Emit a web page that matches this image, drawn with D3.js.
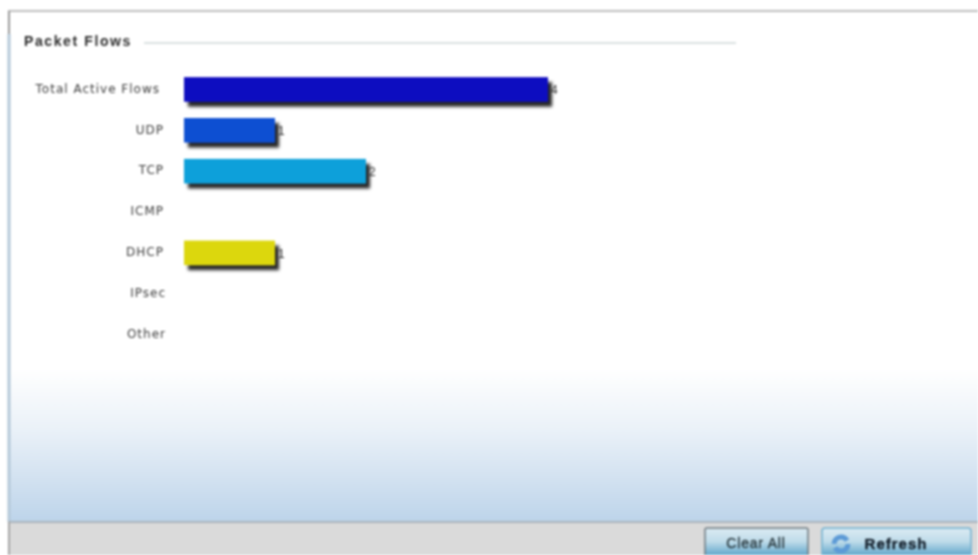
<!DOCTYPE html>
<html>
<head>
<meta charset="utf-8">
<script src="https://cdn.jsdelivr.net/npm/d3@7/dist/d3.min.js"></script>
<style>
  html, body { margin: 0; padding: 0; background: #fff; overflow: hidden; }
  svg { display: block; filter: blur(0.8px); font-family: "Liberation Sans", Arial, sans-serif; }
</style>
</head>
<body>
<svg id="main_svg" width="978" height="555"></svg>
<script>
const categories = ["Total Active Flows", "UDP", "TCP", "ICMP", "DHCP", "IPsec", "Other"];
const flowCounts = [4, 1, 2, 0, 1, 0, 0];
const barColors = ["#0a08c0", "#0d4fd2", "#0aa0da", "#000000", "#dcd70a", "#000000", "#000000"];
const xTicks = [0, 1, 2, 3, 4];

const svg = d3.select("#main_svg");

const defs = svg.append("defs");

const panelGrad = defs.append("linearGradient")
  .attr("id", "panelGrad").attr("x1", 0).attr("y1", 0).attr("x2", 0).attr("y2", 1);
panelGrad.append("stop").attr("offset", "0%").attr("stop-color", "#ffffff");
panelGrad.append("stop").attr("offset", "70%").attr("stop-color", "#ffffff");
panelGrad.append("stop").attr("offset", "82%").attr("stop-color", "#eaf1f8");
panelGrad.append("stop").attr("offset", "100%").attr("stop-color", "#bdd4ea");

const btnGrad = defs.append("linearGradient")
  .attr("id", "btnGrad").attr("x1", 0).attr("y1", 0).attr("x2", 0).attr("y2", 1);
btnGrad.append("stop").attr("offset", "0%").attr("stop-color", "#dcebf3");
btnGrad.append("stop").attr("offset", "45%").attr("stop-color", "#bfdcea");
btnGrad.append("stop").attr("offset", "100%").attr("stop-color", "#4f9cc4");

const shadow = defs.append("filter")
  .attr("id", "barShadow").attr("x", "-10%").attr("y", "-30%").attr("width", "125%").attr("height", "190%");
shadow.append("feDropShadow")
  .attr("dx", 4).attr("dy", 5).attr("stdDeviation", 1.8)
  .attr("flood-color", "#101010").attr("flood-opacity", 0.9);

// panel
svg.append("rect").attr("x", 8).attr("y", 11).attr("width", 970).attr("height", 511).attr("fill", "url(#panelGrad)");
svg.append("line").attr("x1", 8).attr("x2", 978).attr("y1", 11).attr("y2", 11).attr("stroke", "#a8a8a8").attr("stroke-width", 1.5);
svg.append("line").attr("x1", 9).attr("x2", 9).attr("y1", 11).attr("y2", 34).attr("stroke", "#999").attr("stroke-width", 2);
svg.append("line").attr("x1", 9).attr("x2", 9).attr("y1", 34).attr("y2", 522).attr("stroke", "#b4c8d8").attr("stroke-width", 3);

// footer
svg.append("rect").attr("x", 8).attr("y", 522).attr("width", 970).attr("height", 33).attr("fill", "#dadada");
svg.append("line").attr("x1", 8).attr("x2", 978).attr("y1", 522).attr("y2", 522).attr("stroke", "#aab4bc").attr("stroke-width", 2);
svg.append("line").attr("x1", 9).attr("x2", 9).attr("y1", 522).attr("y2", 555).attr("stroke", "#a5a5a5").attr("stroke-width", 2);

// title
svg.append("text").attr("x", 24).attr("y", 46)
  .attr("font-size", 14).attr("font-weight", "bold").attr("letter-spacing", 1.6).attr("fill", "#2c2c2c").text("Packet Flows");
svg.append("line").attr("x1", 144).attr("x2", 736).attr("y1", 43).attr("y2", 43).attr("stroke", "#ced6d6").attr("stroke-width", 1.5);

// chart
const x = d3.scaleLinear().domain([0, d3.max(xTicks)]).range([184, 548]);
const y = d3.scaleBand().domain(categories).range([68, 354]).paddingInner(0.4).paddingOuter(0.2);

const yAxis = svg.append("g")
  .attr("transform", `translate(${x(0) - 20},0)`)
  .call(d3.axisLeft(y).tickSize(0).tickPadding(0));
yAxis.select(".domain").remove();
yAxis.selectAll("text")
  .attr("font-family", "'DejaVu Sans', sans-serif")
  .attr("fill", "#3c3c3c")
  .attr("letter-spacing", 1)
  .style("font-size", "12px")
  .attr("dy", "0.36em")
  .attr("dx", d => d === categories[0] ? -4 : (d === "Other" || d === "IPsec") ? 2 : 0);

const rows = categories.map((name, i) => ({ name, value: flowCounts[i], color: barColors[i] }));

svg.append("g")
  .selectAll("rect")
  .data(rows.filter(d => d.value > 0))
  .join("rect")
  .attr("x", x(0))
  .attr("y", d => y(d.name) + 1)
  .attr("width", d => x(d.value) - x(0))
  .attr("height", y.bandwidth())
  .attr("fill", d => d.color)
  .attr("filter", "url(#barShadow)");

svg.append("g")
  .selectAll("text")
  .data(rows.filter(d => d.value > 0))
  .join("text")
  .attr("x", d => x(d.value) + 3)
  .attr("y", d => y(d.name) + y.bandwidth() / 2 + 6)
  .attr("font-size", 12)
  .attr("fill", "#333")
  .text(d => d.value);

// buttons
svg.append("rect").attr("x", 705).attr("y", 528).attr("width", 103).attr("height", 30).attr("rx", 2)
  .attr("fill", "url(#btnGrad)").attr("stroke", "#6e7a80").attr("stroke-width", 1.5);
svg.append("text").attr("x", 756).attr("y", 548).attr("text-anchor", "middle")
  .attr("font-size", 14).attr("letter-spacing", 0.8).attr("stroke", "#2a3a40").attr("stroke-width", 0.4)
  .attr("fill", "#2a3a40").text("Clear All");

svg.append("rect").attr("x", 822).attr("y", 528).attr("width", 149).attr("height", 30).attr("rx", 3)
  .attr("fill", "url(#btnGrad)").attr("stroke", "#6fb0d0").attr("stroke-width", 1.5);
svg.append("circle").attr("cx", 841).attr("cy", 544).attr("r", 7)
  .attr("fill", "none").attr("stroke", "#5c9ad6").attr("stroke-width", 5).attr("stroke-dasharray", "18 4");
svg.append("text").attr("x", 896).attr("y", 549).attr("text-anchor", "middle")
  .attr("font-size", 15).attr("font-weight", "bold").attr("letter-spacing", 1).attr("stroke", "#14202c").attr("stroke-width", 0.4)
  .attr("fill", "#14202c").text("Refresh");
</script>
</body>
</html>
